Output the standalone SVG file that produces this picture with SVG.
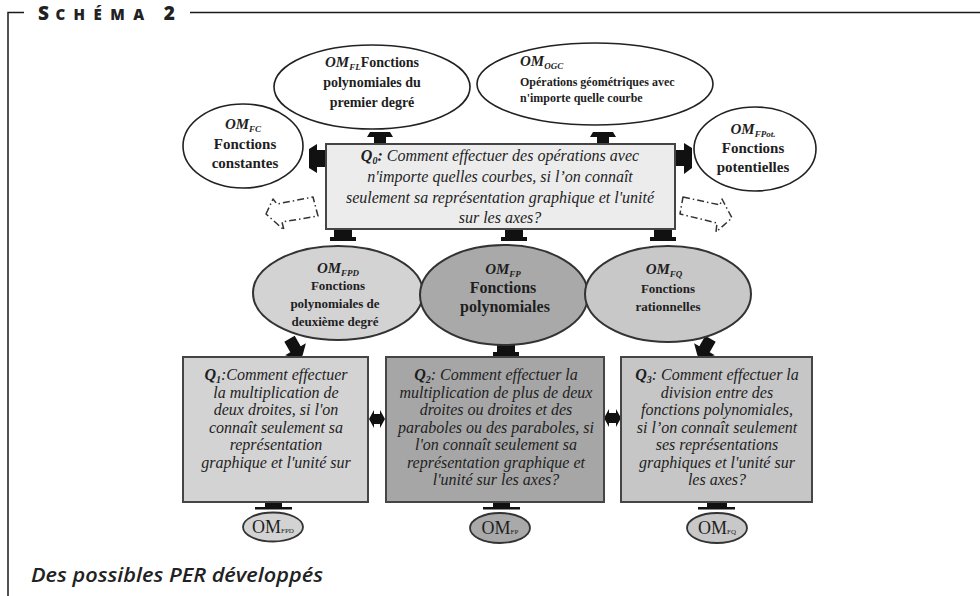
<svg xmlns="http://www.w3.org/2000/svg" width="980" height="596" viewBox="0 0 980 596">
<style>
.s{font-family:"Liberation Serif","Times New Roman",serif;fill:#1e1e1e}
.om{font-weight:bold;font-style:italic}
.b{font-weight:bold}
.i{font-style:italic}
.bi{font-weight:bold;font-style:italic}
.top{fill:#fff;stroke:#222;stroke-width:1.6}
.arr{fill:#111}
.dash{fill:#fff;stroke:#333;stroke-width:1.5;stroke-dasharray:7 3 1.5 3;stroke-linejoin:round}
.box{stroke:#454545;stroke-width:2}
.frame{stroke:#1a1a1a;stroke-width:1.5;fill:none}
</style>
<rect width="980" height="596" fill="#fff"/>
<g id="frame">
<path class="frame" d="M8 596V12.5H24M190 12.5H980"/>
<text x="38" y="20" font-family="'Open Sans','Lato',sans-serif" font-weight="800" fill="#222" textLength="137" lengthAdjust="spacing"><tspan font-size="19">S</tspan><tspan font-size="15" letter-spacing="2">CHÉMA</tspan><tspan font-size="19"> 2</tspan></text>
</g>
<g id="connectors">
<polygon class="arr" points="374,145 374,137 367,137 370,132 390,132 393,137 386,137 386,145"/>
<polygon class="arr" points="597,145 597,137 590,137 593,132 613,132 616,137 609,137 609,145"/>
<polygon class="arr" points="327,150 317,150 317,144 309,149 309,168 317,173 317,167 327,167"/>
<polygon class="arr" points="675,150 684,150 684,143 692,148 692,168 684,174 684,166 675,166"/>
<polygon class="dash" points="266,214 273,199 277,204 313,197 318,216 282,222 284,230"/>
<polygon class="dash" points="683,197 720,205 722,199 732,218 716,232 717,223 680,214"/>
<polygon class="arr" points="334,230 352,230 352,237 356,237 356,241 330,241 330,237 334,237"/>
<polygon class="arr" points="505,230 523,230 523,237 527,237 527,241 501,241 501,237 505,237"/>
<polygon class="arr" points="654,230 672,230 672,237 676,237 676,241 650,241 650,237 654,237"/>
<polygon class="arr" transform="translate(300,357) rotate(-30)" points="-6,-21 6,-21 6,-9 12,-9 3,0 -3,0 -12,-9 -6,-9"/>
<polygon class="arr" transform="translate(700,357) rotate(30)" points="-6,-21 6,-21 6,-9 12,-9 3,0 -3,0 -12,-9 -6,-9"/>
<polygon class="arr" points="497,344 515,344 515,352 519,352 519,356 493,356 493,352 497,352"/>
<polygon class="arr" points="369,419 374,410 374,414 380,414 380,410 385,419 380,428 380,424 374,424 374,428"/>
<polygon class="arr" points="604,418 609,409 609,413 616,413 616,409 621,418 616,427 616,423 609,423 609,427"/>
<polygon class="arr" points="265,502 282,502 282,507 292,507 292,509.5 255,509.5 255,507 265,507"/>
<polygon class="arr" points="493,502 510,502 510,507 520,507 520,509.5 483,509.5 483,507 493,507"/>
<polygon class="arr" points="707,502 727,502 727,507 735,507 735,509.5 698,509.5 698,507 707,507"/>
</g>
<g id="om-fl">
<ellipse class="top" cx="372" cy="87" rx="98" ry="42"/>
<text class="s" text-anchor="middle" font-size="14"><tspan x="372" y="67"><tspan class="om" font-size="15">OM</tspan><tspan class="om" font-size="9" dy="3">FL</tspan><tspan class="b" dy="-3">Fonctions</tspan></tspan><tspan class="b" x="372" y="87">polynomiales du</tspan><tspan class="b" x="372" y="107">premier degré</tspan></text>
</g>
<g id="om-ogc">
<ellipse class="top" cx="595" cy="84" rx="118" ry="41"/>
<text class="s" font-size="12"><tspan x="520" y="66"><tspan class="om" font-size="15">OM</tspan><tspan class="om" font-size="9" dy="3">OGC</tspan></tspan><tspan class="b" x="520" y="86">Opérations géométriques avec</tspan><tspan class="b" x="520" y="102">n'importe quelle courbe</tspan></text>
</g>
<g id="om-fc">
<ellipse class="top" cx="243" cy="146" rx="60" ry="42"/>
<text class="s" text-anchor="middle" font-size="15"><tspan x="243" y="129"><tspan class="om">OM</tspan><tspan class="om" font-size="9" dy="3">FC</tspan></tspan><tspan class="b" x="245" y="149">Fonctions</tspan><tspan class="b" x="245" y="168">constantes</tspan></text>
</g>
<g id="om-fpot">
<ellipse class="top" cx="755" cy="149" rx="61" ry="42"/>
<text class="s" text-anchor="middle" font-size="15"><tspan x="753" y="134"><tspan class="om">OM</tspan><tspan class="om" font-size="9" dy="3">FPot.</tspan></tspan><tspan class="b" x="753" y="153">Fonctions</tspan><tspan class="b" x="753" y="172">potentielles</tspan></text>
</g>
<g id="q0">
<rect class="box" x="326" y="144" width="349" height="85" fill="#ececec"/>
<text class="s i" text-anchor="middle" font-size="16"><tspan x="500" y="161"><tspan class="bi">Q</tspan><tspan class="bi" font-size="10" dy="3">0</tspan><tspan class="bi" dy="-3">:</tspan> Comment effectuer des opérations avec</tspan><tspan x="500" y="182">n'importe quelles courbes, si l’on connaît</tspan><tspan x="500" y="203">seulement sa représentation graphique et l'unité</tspan><tspan x="500" y="223">sur les axes?</tspan></text>
</g>
<g id="om-fpd">
<ellipse cx="338" cy="293" rx="85" ry="47" fill="#d3d3d3" stroke="#333" stroke-width="2"/>
<text class="s" text-anchor="middle" font-size="13"><tspan x="338" y="273"><tspan class="om" font-size="15">OM</tspan><tspan class="om" font-size="9" dy="3">FPD</tspan></tspan><tspan class="b" x="338" y="290">Fonctions</tspan><tspan class="b" x="335" y="308">polynomiales de</tspan><tspan class="b" x="335" y="326">deuxième degré</tspan></text>
</g>
<g id="om-fp">
<ellipse cx="504" cy="295" rx="84" ry="50" fill="#a9a9a9" stroke="#333" stroke-width="2"/>
<text class="s" text-anchor="middle" font-size="16"><tspan x="503" y="274"><tspan class="om" font-size="15">OM</tspan><tspan class="om" font-size="9" dy="3">FP</tspan></tspan><tspan class="b" x="503" y="293">Fonctions</tspan><tspan class="b" x="505" y="312">polynomiales</tspan></text>
</g>
<g id="om-fq">
<ellipse cx="668" cy="294" rx="83" ry="48" fill="#c8c8c8" stroke="#333" stroke-width="2"/>
<text class="s" text-anchor="middle" font-size="13"><tspan x="664" y="274"><tspan class="om" font-size="15">OM</tspan><tspan class="om" font-size="9" dy="3">FQ</tspan></tspan><tspan class="b" x="668" y="293">Fonctions</tspan><tspan class="b" x="668" y="311">rationnelles</tspan></text>
</g>
<g id="q1">
<rect class="box" x="183" y="357" width="185" height="145" fill="#d3d3d3"/>
<text class="s i" text-anchor="middle" font-size="16"><tspan x="276" y="380"><tspan class="bi">Q</tspan><tspan class="bi" font-size="10" dy="3">1</tspan><tspan dy="-3">:Comment effectuer</tspan></tspan><tspan x="276" y="397.5">la multiplication de</tspan><tspan x="276" y="415">deux droites, si l'on</tspan><tspan x="276" y="432.5">connaît seulement sa</tspan><tspan x="276" y="450">représentation</tspan><tspan x="276" y="467.5">graphique et l'unité sur</tspan></text>
</g>
<g id="q2">
<rect class="box" x="386" y="357" width="218" height="145" fill="#a6a6a6"/>
<text class="s i" text-anchor="middle" font-size="16"><tspan x="496" y="380"><tspan class="bi">Q</tspan><tspan class="bi" font-size="10" dy="3">2</tspan><tspan dy="-3">: Comment effectuer la</tspan></tspan><tspan x="496" y="397.5">multiplication de plus de deux</tspan><tspan x="496" y="415">droites ou droites et des</tspan><tspan x="496" y="432.5">paraboles ou des paraboles, si</tspan><tspan x="496" y="450">l'on connaît seulement sa</tspan><tspan x="496" y="467.5">représentation graphique et</tspan><tspan x="496" y="485">l'unité sur les axes?</tspan></text>
</g>
<g id="q3">
<rect class="box" x="621" y="357" width="191" height="145" fill="#c6c6c6"/>
<text class="s i" text-anchor="middle" font-size="16"><tspan x="717" y="380"><tspan class="bi">Q</tspan><tspan class="bi" font-size="10" dy="3">3</tspan><tspan dy="-3">: Comment effectuer la</tspan></tspan><tspan x="717" y="397.5">division entre des</tspan><tspan x="717" y="415">fonctions polynomiales,</tspan><tspan x="717" y="432.5">si l’on connaît seulement</tspan><tspan x="717" y="450">ses représentations</tspan><tspan x="717" y="467.5">graphiques et l'unité sur</tspan><tspan x="717" y="485">les axes?</tspan></text>
</g>
<g id="om-fpd-small">
<ellipse cx="273" cy="527" rx="30" ry="14.5" fill="#d3d3d3" stroke="#333" stroke-width="1.8"/>
<text class="s" x="273" y="533" text-anchor="middle" font-size="18">OM<tspan font-size="7">FPD</tspan></text>
</g>
<g id="om-fp-small">
<ellipse cx="500" cy="528" rx="30" ry="15" fill="#a9a9a9" stroke="#333" stroke-width="1.8"/>
<text class="s" x="500" y="534" text-anchor="middle" font-size="18">OM<tspan font-size="7">FP</tspan></text>
</g>
<g id="om-fq-small">
<ellipse cx="717" cy="528" rx="30" ry="15" fill="#c8c8c8" stroke="#333" stroke-width="1.8"/>
<text class="s" x="717" y="534" text-anchor="middle" font-size="18">OM<tspan font-size="7">FQ</tspan></text>
</g>
<text x="31" y="582" font-family="'Open Sans','Lato',sans-serif" font-style="italic" font-weight="600" font-size="19" fill="#222" textLength="292" lengthAdjust="spacingAndGlyphs">Des possibles PER développés</text>
</svg>
